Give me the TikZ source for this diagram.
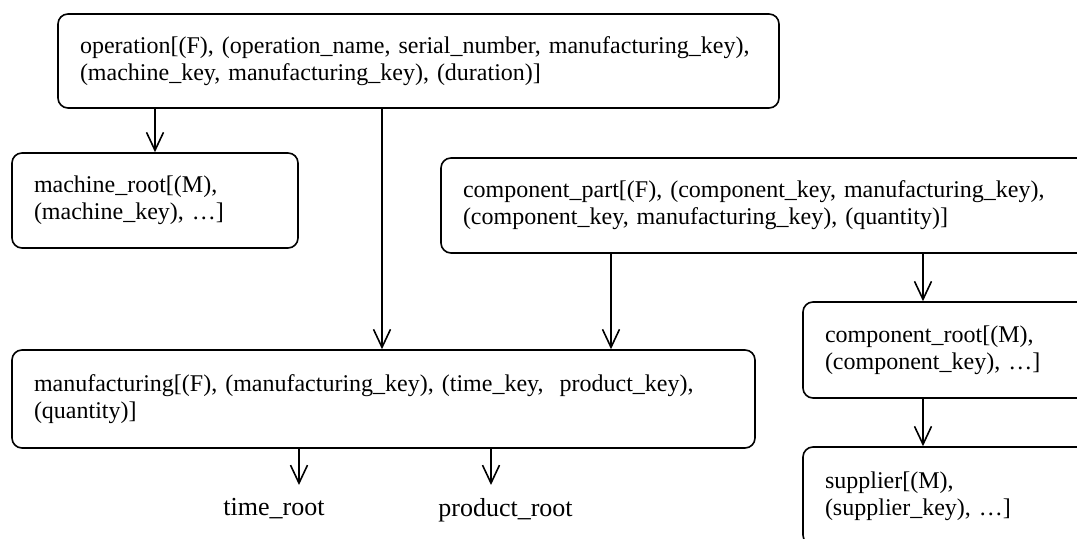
\documentclass[tikz,border=0pt]{standalone}
\usepackage{fontspec}
\setmainfont{Liberation Serif}
\usetikzlibrary{arrows.meta, positioning}

\begin{document}
\begin{tikzpicture}[
            x=0.5pt, y=-0.5pt,
            line join=bevel,
            relbox/.style={draw=black, rounded corners=5pt, line width=0.8pt, align=left,
                inner xsep=11pt, inner ysep=0pt, font=\fontsize{12}{13.5}\selectfont},
            rootlabel/.style={inner sep=0pt, font=\fontsize{13}{15}\selectfont},
            arr/.style={line width=0.8pt, -{Straight Barb[length=9pt, width=8.5pt, line width=0.8pt]}}
            ]

            % Page
            \useasboundingbox (0, 0) rectangle (1077, 539);
            \clip (0, 0) rectangle (1077, 539);

            % Relations
            \node[relbox, text width=338.5pt, minimum height=47pt] (operation) at (418.5, 61)
                {operation[(F), (operation\_name, serial\_number, manufacturing\_key),\\(machine\_key, manufacturing\_key), (duration)]};
            \node[relbox, text width=121pt, minimum height=47.5pt] (machine) at (155, 200.5)
                {machine\_root[(M),\\(machine\_key), …]};
            \node[relbox, text width=312.5pt, minimum height=47.5pt] (component) at (775.5, 205.5)
                {component\_part[(F), (component\_key, manufacturing\_key),\\(component\_key, manufacturing\_key), (quantity)]};
            \node[relbox, text width=349.5pt, minimum height=49pt] (manufacturing) at (383.5, 399)
                {manufacturing[(F), (manufacturing\_key), (time\_key,\ \ product\_key),\\(quantity)]};
            \node[relbox, text width=131.5pt, minimum height=48pt] (comproot) at (956.5, 350)
                {component\_root[(M),\\(component\_key), …]};
            \node[relbox, text width=131.5pt, minimum height=49pt] (supplier) at (956.5, 496)
                {supplier[(M),\\(supplier\_key), …]};

            % Roots without attributes
            \node[rootlabel, anchor=north west] (timeroot) at (223, 498) {time\_root};
            \node[rootlabel, anchor=north west] (productroot) at (438, 498) {product\_root};
            \coordinate (timetip) at (299, 485);
            \coordinate (producttip) at (491, 485);

            % Connectors
            \draw[arr] (operation.south -| machine.north) -- (machine.north);
            \draw[arr] (operation.south -| 382, 0) -- (manufacturing.north -| 382, 0);
            \draw[arr] (component.south -| 611, 0) -- (manufacturing.north -| 611, 0);
            \draw[arr] (component.south -| 923, 0) -- (comproot.north -| 923, 0);
            \draw[arr] (comproot.south -| 923, 0) -- (supplier.north -| 923, 0);
            \draw[arr] (manufacturing.south -| timetip) -- (timetip);
            \draw[arr] (manufacturing.south -| producttip) -- (producttip);
\end{tikzpicture}
\end{document}
